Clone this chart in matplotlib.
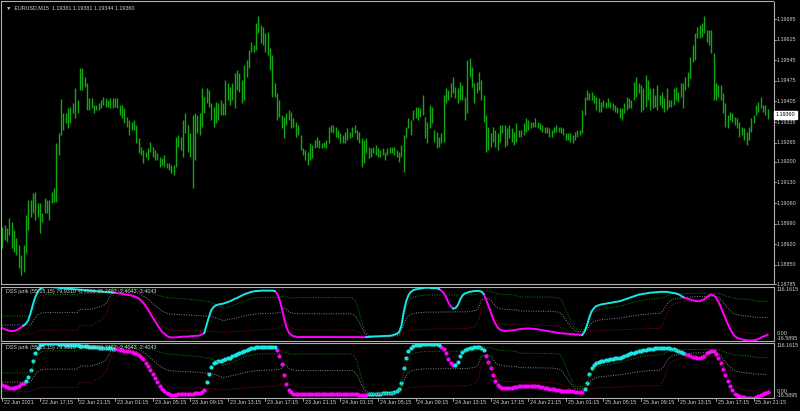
import numpy as np
import matplotlib.pyplot as plt

# EURUSD M15 bars, prices as points above 1.18000
high_pts = [978, 985, 975, 1009, 995, 968, 941, 917, 883, 917,
            1019, 1070, 1070, 1094, 1097, 1060, 1060, 1026, 1077, 1070,
            1070, 1097, 1111, 1264, 1298, 1413, 1366, 1366, 1383, 1386,
            1400, 1451, 1410, 1519, 1519, 1488, 1468, 1417, 1417, 1393,
            1393, 1400, 1410, 1420, 1417, 1410, 1417, 1417, 1417, 1417,
            1393, 1393, 1383, 1352, 1342, 1335, 1342, 1325, 1281, 1250,
            1240, 1233, 1247, 1267, 1250, 1240, 1230, 1216, 1213, 1223,
            1196, 1196, 1189, 1189, 1284, 1291, 1284, 1342, 1366, 1325,
            1298, 1359, 1366, 1359, 1366, 1451, 1420, 1451, 1444, 1400,
            1386, 1403, 1400, 1410, 1400, 1478, 1468, 1454, 1468, 1502,
            1512, 1502, 1478, 1529, 1546, 1580, 1607, 1597, 1672, 1696,
            1665, 1658, 1638, 1641, 1587, 1563, 1468, 1434, 1410, 1359,
            1352, 1366, 1376, 1369, 1349, 1335, 1325, 1291, 1247, 1240,
            1233, 1264, 1257, 1274, 1284, 1274, 1264, 1267, 1274, 1318,
            1325, 1325, 1318, 1308, 1298, 1291, 1301, 1315, 1301, 1318,
            1325, 1308, 1301, 1281, 1274, 1281, 1250, 1247, 1250, 1257,
            1247, 1240, 1247, 1233, 1247, 1250, 1250, 1250, 1240, 1233,
            1257, 1291, 1318, 1349, 1342, 1376, 1386, 1386, 1383, 1427,
            1352, 1335, 1393, 1386, 1308, 1301, 1284, 1298, 1427, 1451,
            1444, 1468, 1488, 1454, 1451, 1471, 1461, 1420, 1546, 1553,
            1522, 1468, 1471, 1505, 1478, 1427, 1359, 1318, 1298, 1318,
            1308, 1298, 1325, 1325, 1325, 1315, 1325, 1315, 1301, 1332,
            1308, 1308, 1332, 1349, 1342, 1335, 1335, 1349, 1335, 1332,
            1325, 1318, 1318, 1315, 1308, 1318, 1325, 1318, 1318, 1315,
            1298, 1298, 1298, 1291, 1301, 1308, 1308, 1376, 1420, 1444,
            1434, 1437, 1427, 1420, 1417, 1403, 1410, 1403, 1417, 1403,
            1400, 1393, 1386, 1383, 1383, 1400, 1420, 1417, 1410, 1471,
            1488, 1468, 1461, 1451, 1495, 1478, 1451, 1451, 1427, 1461,
            1427, 1437, 1417, 1451, 1410, 1410, 1451, 1454, 1437, 1468,
            1468, 1488, 1505, 1556, 1597, 1638, 1658, 1665, 1672, 1696,
            1648, 1648, 1648, 1570, 1468, 1461, 1461, 1434, 1400, 1359,
            1369, 1366, 1352, 1349, 1335, 1318, 1315, 1301, 1318, 1349,
            1359, 1393, 1403, 1420, 1393, 1393, 1381]
low_pts = [907, 934, 927, 951, 907, 893, 883, 839, 815, 825,
           890, 968, 1012, 1026, 1002, 1012, 958, 995, 1026, 1026,
           1002, 1060, 1063, 1063, 1223, 1291, 1308, 1332, 1315, 1332,
           1366, 1349, 1366, 1444, 1444, 1454, 1376, 1376, 1383, 1366,
           1376, 1376, 1383, 1393, 1386, 1386, 1383, 1383, 1386, 1383,
           1359, 1349, 1332, 1318, 1291, 1308, 1308, 1264, 1230, 1223,
           1196, 1216, 1206, 1233, 1216, 1206, 1206, 1182, 1189, 1182,
           1179, 1172, 1162, 1155, 1182, 1250, 1240, 1216, 1298, 1233,
           1216, 1111, 1206, 1298, 1291, 1318, 1366, 1400, 1386, 1342,
           1318, 1332, 1342, 1359, 1359, 1359, 1410, 1393, 1410, 1383,
           1444, 1437, 1400, 1410, 1488, 1519, 1573, 1573, 1580, 1638,
           1604, 1597, 1573, 1563, 1512, 1420, 1420, 1342, 1352, 1315,
           1281, 1325, 1342, 1315, 1318, 1284, 1291, 1240, 1223, 1206,
           1189, 1206, 1213, 1247, 1250, 1247, 1247, 1250, 1247, 1264,
           1301, 1298, 1284, 1281, 1264, 1264, 1264, 1274, 1281, 1284,
           1298, 1274, 1264, 1182, 1196, 1230, 1213, 1216, 1230, 1223,
           1216, 1216, 1223, 1206, 1223, 1230, 1230, 1223, 1216, 1199,
           1216, 1165, 1281, 1315, 1291, 1342, 1349, 1342, 1352, 1359,
           1281, 1264, 1315, 1332, 1267, 1247, 1250, 1264, 1267, 1400,
           1410, 1420, 1434, 1417, 1400, 1410, 1410, 1342, 1366, 1488,
           1454, 1400, 1434, 1444, 1410, 1335, 1233, 1240, 1250, 1267,
           1250, 1240, 1267, 1298, 1250, 1257, 1281, 1267, 1257, 1267,
           1284, 1284, 1291, 1301, 1308, 1315, 1318, 1318, 1315, 1308,
           1301, 1298, 1298, 1284, 1284, 1298, 1301, 1301, 1298, 1291,
           1274, 1274, 1267, 1264, 1274, 1284, 1291, 1298, 1359, 1410,
           1410, 1410, 1400, 1376, 1369, 1369, 1386, 1383, 1386, 1383,
           1376, 1369, 1366, 1349, 1342, 1366, 1376, 1383, 1383, 1410,
           1420, 1434, 1369, 1376, 1386, 1410, 1376, 1383, 1386, 1376,
           1393, 1383, 1369, 1376, 1386, 1386, 1393, 1410, 1403, 1420,
           1383, 1444, 1454, 1485, 1539, 1546, 1621, 1621, 1624, 1638,
           1607, 1597, 1570, 1410, 1410, 1420, 1410, 1366, 1318, 1315,
           1342, 1335, 1325, 1315, 1284, 1291, 1274, 1257, 1274, 1301,
           1332, 1359, 1369, 1383, 1369, 1359, 1344]

# DSS jurik main line (one value per bar)
dss = [14, 11, 9, 7, 6.5, 7, 9, 12, 16, 20,
       25, 33, 51, 72, 90, 103, 110, 113, 115, 116,
       116, 115.5, 114, 114, 113, 112, 112, 111, 111, 110,
       110, 109, 109, 108, 108, 107, 107, 106, 106, 105,
       105, 104, 104, 103, 103, 102, 102, 101, 100, 100,
       99, 98, 97, 96, 95, 94, 92, 90, 87, 82,
       76, 68, 60, 50, 40, 31, 22, 13, 5, 0,
       -5, -8, -9, -9, -9, -8, -8, -7, -7, -7,
       -6, -6, -5, -5, -4, -2, 2, 22, 42, 58,
       66, 70, 72, 73, 74, 76, 78, 80, 83, 86,
       88, 91, 94, 97, 99, 101, 103, 104, 105, 105,
       106, 106, 106, 106, 106, 106, 105, 99, 85, 64,
       38, 16, 3, -3, -6, -7, -8, -8, -8, -8,
       -8, -8, -8, -8, -8, -8, -8, -8, -8, -8,
       -8, -8, -8, -8, -8, -8, -8.2, -8.2, -8.2, -8.2,
       -8.2, -8.2, -8.3, -8.3, -8.3, -8.3, -7.8, -7.2, -6.8, -6.5,
       -6.2, -6, -5.8, -5.5, -5.2, -5, -4, -2, 0, 4,
       20, 54, 80, 95, 103, 107, 109, 110, 111, 112,
       113, 113, 113, 112, 112, 112, 110, 106, 100, 90,
       77, 67, 62, 63, 70, 84, 94, 99, 101, 103,
       104, 105, 105, 105, 104, 98, 85, 69, 54, 38,
       25, 15, 10, 8, 7, 7, 8, 8, 9, 10,
       11, 12, 12, 13, 13, 13, 12, 12, 11, 10,
       9, 8, 7, 6, 5, 4, 3, 2, 1, 1,
       0, 0, -1, -1, -2, -2, -3, -3, 5, 20,
       40, 55, 63, 68, 70, 72, 73, 74, 75, 76,
       77, 78, 79, 80, 82, 84, 86, 88, 90, 92,
       94, 96, 97, 98, 99, 100, 101, 101, 102, 102,
       103, 103, 103, 103, 102, 101, 100, 99, 97, 94,
       90, 88, 86, 84, 82, 81, 80, 80, 82, 85,
       90, 94, 96, 95, 89, 79, 66, 52, 38, 24,
       12, 2, -6, -10, -12, -14, -15, -16, -16.5, -16.5,
       -16.2, -15, -13, -10, -7, -5, -2.4]
# bar ranges where the line is drawn cyan (up), else magenta
up_runs = [(10, 47), (87, 116), (156, 186), (193, 205), (248, 290)]

# floating levels (upper / middle / lower), read at selected bars
lvl_bars = [0, 12, 13, 14, 15, 16, 17, 19, 32, 33, 38, 39, 40, 41, 42, 43,
            44, 45, 46, 47, 48, 52, 56, 58, 60, 62, 64, 66, 68, 70, 72, 80,
            84, 88, 90, 92, 94, 95, 98, 100, 104, 106, 108, 110, 114, 116,
            117, 118, 119, 120, 121, 122, 123, 124, 126, 148, 149, 150, 151,
            152, 153, 154, 155, 156, 160, 166, 168, 169, 170, 171, 172, 173,
            174, 176, 180, 190, 198, 200, 201, 202, 203, 204, 207, 208, 209,
            210, 211, 212, 214, 216, 219, 220, 221, 234, 237, 238, 239, 240,
            241, 242, 243, 244, 245, 248, 249, 250, 251, 252, 254, 256, 260,
            264, 268, 272, 276, 280, 281, 282, 283, 284, 285, 286, 288, 290,
            292, 294, 296, 304, 305, 306, 307, 308, 309, 310, 311, 312, 314,
            316, 318, 320, 322, 326]
lvl_up = [43.5, 43.5, 59.7, 75, 86, 92, 94.5, 96.3, 96.3, 98.7, 98.7, 99,
          99.5, 100, 100.8, 101.5, 102.7, 105, 108.5, 111, 112.8, 112.3,
          110.7, 108.3, 105.8, 102.5, 98.7, 95.1, 91.7, 89.4, 87.9, 84.5,
          82, 78.6, 75, 68.4, 61.5, 63.3, 69.2, 73.5, 82.8, 86.2, 88, 89,
          89.2, 89.4, 89.5, 89.8, 90.4, 93.4, 91, 89, 88.1, 87.6, 88.9,
          88.9, 88, 83, 71, 53, 31, 12.4, 1.4, -3.8, -6.3, -4.6, -1.2, 2.2,
          19.2, 44.8, 67, 79.7, 86.5, 91.6, 95, 95.2, 95.3, 95.8, 96, 96.2,
          99, 104, 105, 103.9, 101.6, 99.6, 98.1, 97.4, 96.9, 96.1, 94.6,
          91.2, 90.3, 90, 88.7, 83.5, 72.4, 58.7, 45.9, 32.2, 21.1, 12.5,
          10.8, 10.6, 16.6, 33.6, 46.3, 53.1, 59.1, 61.6, 65, 69.3, 76, 82,
          85.4, 87.1, 88.3, 90.6, 93.6, 95.8, 97, 97.8, 98.4, 98.7, 99,
          99.3, 99.6, 99.6, 99.3, 97.5, 95.4, 93.3, 91.2, 89.4, 87.9, 86.7,
          85.8, 85.3, 84.2, 81.7, 79.9, 79.9]
lvl_mid = [21.5, 21.5, 31, 40, 46.5, 50, 51.5, 52.5, 52.5, 60, 60, 62,
           63.5, 65.5, 67.5, 70, 74, 83, 93.5, 102.5, 107.5, 106, 103, 99.5,
           93.5, 85, 74.5, 65, 56, 50.5, 48, 46, 44.5, 42.5, 40.5, 36.5,
           32.5, 33.5, 37, 39.5, 45, 47, 48.5, 49.5, 50, 50.5, 51, 52, 54,
           64, 61, 54.5, 51.5, 50, 49, 49, 48.5, 45.5, 38.5, 28, 15, 4,
           -2.5, -5.5, -7, -6, -4, -2, 6, 23.5, 36.5, 44, 48, 51, 53, 53.5,
           54, 55.5, 56.5, 58.5, 66.5, 83.5, 87.5, 83.5, 75.5, 69, 64, 61.5,
           60, 59.5, 58.5, 56.5, 56, 55, 53, 49.5, 43, 34.5, 27, 18.5, 12,
           6.5, 5.5, 5, 8.5, 18.5, 26, 30, 33.5, 35, 37, 39.5, 43.5, 47, 49,
           50, 54, 61.5, 71.5, 79, 83, 85.5, 87.5, 88.5, 89.5, 90.5, 91.5,
           91.5, 90.5, 84.5, 77.5, 70.5, 63.5, 57.5, 52.5, 48.5, 45.5, 44,
           43, 41.3, 40.5, 39.75]
lvl_dn = [-0.5, -0.5, 2.3, 5, 7, 8, 8.5, 8.8, 8.8, 20, 20, 25, 27.6,
          30.9, 34, 38.5, 45.3, 60.6, 78.5, 93.8, 102.3, 99.7, 95.3, 90.8,
          81.3, 67.5, 50.4, 34.9, 20.3, 11.7, 8.1, 7.5, 7, 6.5, 5.9, 4.7,
          3.5, 3.8, 4.8, 5.6, 7.2, 7.8, 9, 10, 10.8, 11.7, 12.5, 15.7,
          17.6, 34.6, 31, 19.5, 14.9, 12.3, 9.1, 9.1, 9, 8, 6, 2.8, -0.9,
          -4.4, -6.4, -7.3, -7.7, -7.4, -6.8, -6.2, -3.2, 2.2, 5.1, 7.3,
          8.5, 9.4, 11, 11.9, 12.7, 15.3, 17, 20.8, 34, 62.9, 69.7, 62.9,
          49.3, 38, 29.7, 25.5, 22.9, 22.8, 22.5, 21.9, 21.7, 20, 17.3,
          15.6, 13.6, 10.4, 8.1, 4.9, 2.9, 0.6, 0.3, -0.6, -0.5, 3.5, 5.7,
          6.9, 8, 8.4, 9, 9.8, 11, 12, 12.6, 12.9, 19.7, 32.5, 49.5, 62.2,
          69, 73.3, 76.7, 78.3, 80, 81.8, 83.5, 83.5, 81.8, 71.6, 59.7,
          47.8, 35.9, 25.7, 17.2, 10.4, 5.3, 2.7, 1.3, 0.9, 0.2, -0.5]

time_labels = ['22 Jun 2021', '22 Jun 17:15', '22 Jun 21:15', '23 Jun 01:15',
               '23 Jun 05:15', '23 Jun 09:15', '23 Jun 13:15', '23 Jun 17:15',
               '23 Jun 21:15', '24 Jun 01:15', '24 Jun 05:15', '24 Jun 09:15',
               '24 Jun 13:15', '24 Jun 17:15', '24 Jun 21:15', '25 Jun 01:15',
               '25 Jun 05:15', '25 Jun 09:15', '25 Jun 13:15', '25 Jun 17:15',
               '25 Jun 21:15']
price_ticks = [1.19685, 1.19615, 1.19545, 1.19475, 1.19405, 1.19335, 1.19265,
               1.19200, 1.19130, 1.19060, 1.18990, 1.18920, 1.18850, 1.18785]
last_price = 1.19360
header = '\u25bc  EURUSD,M15  1.19381 1.19381 1.19344 1.19360'
dss_label = 'DSS jurik (55,15,15) 79.9310 -0.4966 39.7482 -2.4043 -2.4043'

high = 1.18 + np.array(high_pts) / 1e5
low = 1.18 + np.array(low_pts) / 1e5
dss = np.array(dss, dtype=float)
idx = np.arange(len(high))

W, H = 800, 411
fig = plt.figure(figsize=(W / 100, H / 100), dpi=100, facecolor='black')
plt.rcParams['font.family'] = ['Liberation Sans', 'DejaVu Sans']
FS = 3.9
BORDER = '#b0b0b0'
TXT = '#d0d0d0'


def box(x0, y0, x1, y1):
    return [x0 / W, 1 - y1 / H, (x1 - x0) / W, (y1 - y0) / H]


def style(ax):
    ax.set_facecolor('black')
    for s in ax.spines.values():
        s.set_color(BORDER)
        s.set_linewidth(0.8)
    ax.set_xticks([])
    ax.set_yticks([])
    ax.set_xlim(-0.6, 328.5)


ax = fig.add_axes(box(1, 1.5, 773.5, 284))
ax1 = fig.add_axes(box(1, 286.5, 773.5, 340.5))
ax2 = fig.add_axes(box(1, 342.5, 773.5, 398))
for a in (ax, ax1, ax2):
    style(a)

# price bars
ax.vlines(idx, low, high, color='#12a812', lw=1.0)
ax.set_ylim(1.18785, 1.197445)
for p in price_ticks:
    ax.text(1.004, p, f'{p:.5f}', transform=ax.get_yaxis_transform(),
            color=TXT, fontsize=FS, va='center', ha='left')
    ax.plot([1.0, 1.003], [p, p], transform=ax.get_yaxis_transform(),
            color=BORDER, lw=0.6, clip_on=False)
ax.text(1.003, last_price, f'{last_price:.5f}', transform=ax.get_yaxis_transform(),
        color='black', fontsize=FS, va='center', ha='left',
        bbox=dict(boxstyle='square,pad=0.25', fc='white', ec='white'))
ax.text(0.006, 0.985, header, transform=ax.transAxes, color=TXT,
        fontsize=FS, va='top', ha='left')

# indicator panels
ymin, ymax = -16.5895, 116.1615
up_mask = np.zeros(len(dss), dtype=bool)
for a, b in up_runs:
    up_mask[a:b + 1] = True

for a in (ax1, ax2):
    a.set_ylim(ymin, ymax)
    a.plot(lvl_bars, lvl_up, color='#0a8a0a', lw=0.7, ls=(0, (1, 1.5)))
    a.plot(lvl_bars, lvl_mid, color='#8a8a8a', lw=0.7, ls=(0, (1, 1.5)))
    a.plot(lvl_bars, lvl_dn, color='#8a1010', lw=0.7, ls=(0, (1, 1.5)))
    a.text(0.006, 0.95, dss_label, transform=a.transAxes, color=TXT,
           fontsize=FS, va='top', ha='left')
    tr = a.get_yaxis_transform()
    a.text(1.004, ymax, '116.1615', transform=tr, color=TXT, fontsize=FS,
           va='top', ha='left')
    a.text(1.004, 0, '0.00', transform=tr, color=TXT, fontsize=FS,
           va='center', ha='left')
    a.text(1.004, ymin, '-16.5895', transform=tr, color=TXT, fontsize=FS,
           va='bottom', ha='left')

# line panel: cyan / magenta segments
mag = np.where(~up_mask | np.roll(~up_mask, -1), dss, np.nan)
cyan = np.where(up_mask | np.roll(up_mask, -1), dss, np.nan)
ax1.plot(idx, mag, color='#ff00ff', lw=1.4)
ax1.plot(idx, cyan, color='#19e6e6', lw=1.4)

# dot panel
ax2.scatter(idx[~up_mask], dss[~up_mask], s=9, color='#ff00ff', lw=0)
ax2.scatter(idx[up_mask], dss[up_mask], s=9, color='#19e6e6', lw=0)

# time axis
for i, lab in enumerate(time_labels):
    b = i * 16
    ax2.plot([b, b], [0, -0.05], transform=ax2.get_xaxis_transform(),
             color=BORDER, lw=0.6, clip_on=False)
    ax2.text(b + 0.8, -0.03, lab, transform=ax2.get_xaxis_transform(),
             color=TXT, fontsize=FS, va='top', ha='left')

fig.savefig('out.png', dpi=100, facecolor='black')
